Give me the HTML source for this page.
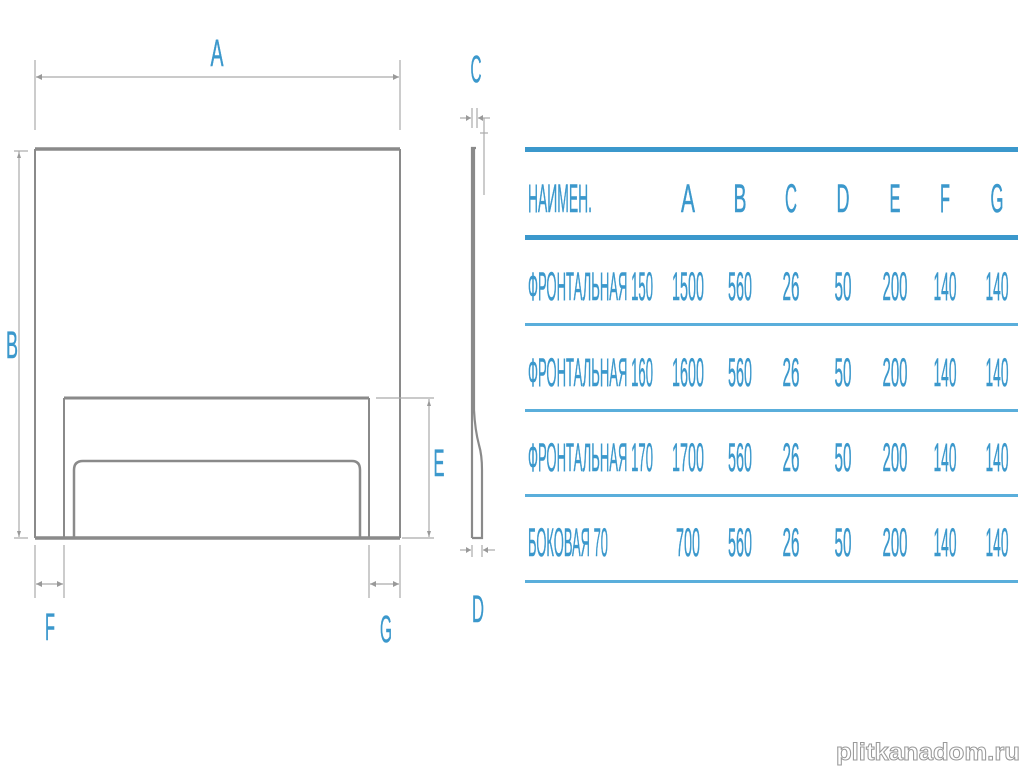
<!DOCTYPE html>
<html><head><meta charset="utf-8"><style>
html,body{margin:0;padding:0;background:#fff;}
svg{display:block;}
text{font-family:"Liberation Sans","DejaVu Sans",sans-serif;fill:#3b98cc;stroke:#3b98cc;stroke-width:0.5;}
</style></head><body>
<svg width="1024" height="768" viewBox="0 0 1024 768" xmlns="http://www.w3.org/2000/svg">
<g stroke="#8a8a8a" fill="none">
 <line x1="35" y1="149" x2="400" y2="149" stroke-width="3.5"/>
 <line x1="35" y1="149" x2="35" y2="538" stroke-width="2"/>
 <line x1="400" y1="149" x2="400" y2="538" stroke-width="2"/>
 <line x1="35" y1="538" x2="400" y2="538" stroke-width="3.5"/>
 <line x1="64" y1="398" x2="369" y2="398" stroke-width="3"/>
 <line x1="64" y1="398" x2="64" y2="538" stroke-width="2"/>
 <line x1="369" y1="398" x2="369" y2="538" stroke-width="2"/>
 <path d="M74 538 V470 Q74 461 83 461 H352 Q360 461 360 470 V538" stroke-width="2.5"/>
 <g stroke="#aaa" stroke-width="1.2">
 <line x1="35" y1="60" x2="35" y2="130"/>
 <line x1="400" y1="60" x2="400" y2="130"/>
 <line x1="36" y1="77" x2="399" y2="77"/>
 <line x1="19" y1="151" x2="19" y2="537"/>
 <line x1="14" y1="151" x2="28" y2="151"/>
 <line x1="14" y1="538" x2="28" y2="538"/>
 <line x1="376" y1="398" x2="434" y2="398"/>
 <line x1="402" y1="538" x2="434" y2="538"/>
 <line x1="429" y1="399" x2="429" y2="537"/>
 <line x1="35" y1="545" x2="35" y2="598"/>
 <line x1="64" y1="545" x2="64" y2="598"/>
 <line x1="36" y1="584" x2="63" y2="584"/>
 <line x1="369" y1="545" x2="369" y2="598"/>
 <line x1="400" y1="545" x2="400" y2="598"/>
 <line x1="370" y1="584" x2="399" y2="584"/>
 <line x1="472" y1="108" x2="472" y2="128"/>
 <line x1="477" y1="108" x2="477" y2="128"/>
 <line x1="460" y1="118" x2="471" y2="118"/>
 <line x1="478" y1="118" x2="490" y2="118"/>
 <line x1="484" y1="118" x2="484" y2="195"/>
 <line x1="480" y1="133" x2="488" y2="133"/>
 <line x1="460" y1="550" x2="471" y2="550"/>
 <line x1="483" y1="550" x2="495" y2="550"/>
 <line x1="472" y1="545" x2="472" y2="557"/>
 <line x1="482" y1="545" x2="482" y2="557"/>
 </g>
 <g fill="#999" stroke="none">
  <path d="M36 77 l6 -3 v6z"/><path d="M399 77 l-6 -3 v6z"/>
  <path d="M19 152 l-2 6 h4z"/><path d="M19 537 l-2 -6 h4z"/>
  <path d="M429 400 l-2 6 h4z"/><path d="M429 537 l-2 -6 h4z"/>
  <path d="M36 584 l6 -3 v6z"/><path d="M63 584 l-6 -3 v6z"/>
  <path d="M370 584 l6 -3 v6z"/><path d="M399 584 l-6 -3 v6z"/>
  <path d="M471 118 l-5 -3 v6z"/><path d="M478 118 l5 -3 v6z"/>
  <path d="M471 550 l-5 -3 v6z"/><path d="M483 550 l5 -3 v6z"/>
 </g>
 <path d="M472 538 V148 H476 M474 148 V410 Q475 430 479 445 Q482 455 482 470 V538 H472" stroke-width="2.2"/>
</g>
<g font-size="38">
 <text x="217" y="66" text-anchor="middle" textLength="13" lengthAdjust="spacingAndGlyphs">A</text>
 <text x="12" y="358" text-anchor="middle" textLength="12" lengthAdjust="spacingAndGlyphs">B</text>
 <text x="476" y="82" text-anchor="middle" textLength="11" lengthAdjust="spacingAndGlyphs">C</text>
 <text x="478" y="622" text-anchor="middle" textLength="12" lengthAdjust="spacingAndGlyphs">D</text>
 <text x="439" y="476" text-anchor="middle" textLength="11" lengthAdjust="spacingAndGlyphs">E</text>
 <text x="50" y="640" text-anchor="middle" textLength="10" lengthAdjust="spacingAndGlyphs">F</text>
 <text x="386" y="642" text-anchor="middle" textLength="12" lengthAdjust="spacingAndGlyphs">G</text>
</g>
<g fill="#3b98cc">
 <rect x="525" y="147" width="493" height="5"/>
 <rect x="525" y="235" width="493" height="5"/>
 <rect x="525" y="323" width="493" height="3" fill="#5aaedb"/>
 <rect x="525" y="409" width="493" height="3" fill="#5aaedb"/>
 <rect x="525" y="494" width="493" height="3" fill="#5aaedb"/>
 <rect x="525" y="580" width="493" height="3" fill="#5aaedb"/>
</g>
<g font-size="40">
 <text x="528" y="212" textLength="64" lengthAdjust="spacingAndGlyphs">НАИМЕН.</text>
 <g text-anchor="middle">
 <text x="688" y="212" textLength="14" lengthAdjust="spacingAndGlyphs">A</text>
 <text x="740" y="212" textLength="13" lengthAdjust="spacingAndGlyphs">B</text>
 <text x="791" y="212" textLength="12" lengthAdjust="spacingAndGlyphs">C</text>
 <text x="843" y="212" textLength="13" lengthAdjust="spacingAndGlyphs">D</text>
 <text x="895" y="212" textLength="11" lengthAdjust="spacingAndGlyphs">E</text>
 <text x="945" y="212" textLength="10" lengthAdjust="spacingAndGlyphs">F</text>
 <text x="997" y="212" textLength="13" lengthAdjust="spacingAndGlyphs">G</text>
 </g>
 <text x="528" y="300" textLength="125" lengthAdjust="spacingAndGlyphs">ФРОНТАЛЬНАЯ 150</text>
 <text x="528" y="386" textLength="125" lengthAdjust="spacingAndGlyphs">ФРОНТАЛЬНАЯ 160</text>
 <text x="528" y="471" textLength="125" lengthAdjust="spacingAndGlyphs">ФРОНТАЛЬНАЯ 170</text>
 <text x="528" y="556" textLength="80" lengthAdjust="spacingAndGlyphs">БОКОВАЯ 70</text>
 <g text-anchor="middle">
 <text x="688" y="300" textLength="32" lengthAdjust="spacingAndGlyphs">1500</text>
 <text x="688" y="386" textLength="32" lengthAdjust="spacingAndGlyphs">1600</text>
 <text x="688" y="471" textLength="32" lengthAdjust="spacingAndGlyphs">1700</text>
 <text x="688" y="556" textLength="24" lengthAdjust="spacingAndGlyphs">700</text>
 </g>
</g>
<g font-size="40" text-anchor="middle">
 <g>
 <text x="740" y="300" textLength="24" lengthAdjust="spacingAndGlyphs">560</text>
 <text x="791" y="300" textLength="17" lengthAdjust="spacingAndGlyphs">26</text>
 <text x="843" y="300" textLength="17" lengthAdjust="spacingAndGlyphs">50</text>
 <text x="895" y="300" textLength="25" lengthAdjust="spacingAndGlyphs">200</text>
 <text x="945" y="300" textLength="23" lengthAdjust="spacingAndGlyphs">140</text>
 <text x="997" y="300" textLength="23" lengthAdjust="spacingAndGlyphs">140</text>
 </g>
 <g>
 <text x="740" y="386" textLength="24" lengthAdjust="spacingAndGlyphs">560</text>
 <text x="791" y="386" textLength="17" lengthAdjust="spacingAndGlyphs">26</text>
 <text x="843" y="386" textLength="17" lengthAdjust="spacingAndGlyphs">50</text>
 <text x="895" y="386" textLength="25" lengthAdjust="spacingAndGlyphs">200</text>
 <text x="945" y="386" textLength="23" lengthAdjust="spacingAndGlyphs">140</text>
 <text x="997" y="386" textLength="23" lengthAdjust="spacingAndGlyphs">140</text>
 </g>
 <g>
 <text x="740" y="471" textLength="24" lengthAdjust="spacingAndGlyphs">560</text>
 <text x="791" y="471" textLength="17" lengthAdjust="spacingAndGlyphs">26</text>
 <text x="843" y="471" textLength="17" lengthAdjust="spacingAndGlyphs">50</text>
 <text x="895" y="471" textLength="25" lengthAdjust="spacingAndGlyphs">200</text>
 <text x="945" y="471" textLength="23" lengthAdjust="spacingAndGlyphs">140</text>
 <text x="997" y="471" textLength="23" lengthAdjust="spacingAndGlyphs">140</text>
 </g>
 <g>
 <text x="740" y="556" textLength="24" lengthAdjust="spacingAndGlyphs">560</text>
 <text x="791" y="556" textLength="17" lengthAdjust="spacingAndGlyphs">26</text>
 <text x="843" y="556" textLength="17" lengthAdjust="spacingAndGlyphs">50</text>
 <text x="895" y="556" textLength="25" lengthAdjust="spacingAndGlyphs">200</text>
 <text x="945" y="556" textLength="23" lengthAdjust="spacingAndGlyphs">140</text>
 <text x="997" y="556" textLength="23" lengthAdjust="spacingAndGlyphs">140</text>
 </g>
</g>
<text x="836" y="760" font-size="24" font-weight="bold" textLength="184" lengthAdjust="spacingAndGlyphs" style="fill:#fff;stroke:#999;stroke-width:1">plitkanadom.ru</text>
</svg>
</body></html>
